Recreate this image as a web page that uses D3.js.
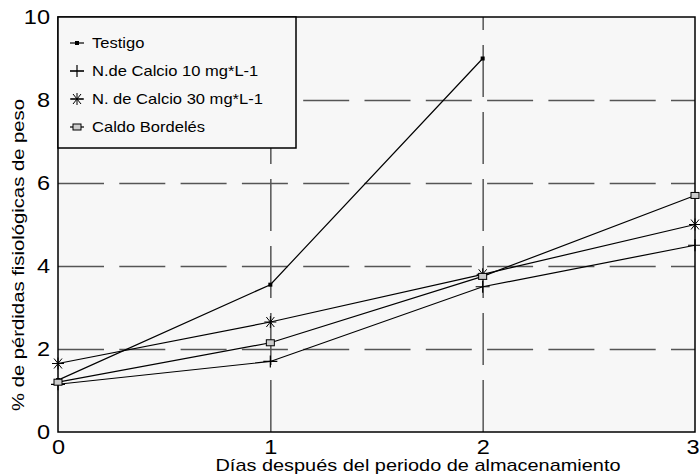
<!DOCTYPE html>
<html>
<head>
<meta charset="utf-8">
<script src="https://cdn.jsdelivr.net/npm/d3@7"></script>
<style>
  body { margin: 0; background: #fff; }
  text { font-family: "Liberation Sans", Arial, sans-serif; }
</style>
</head>
<body>
<div id="chart"></div>
<script>
var dias = [0, 1, 2, 3];
var seriesNames = ["Testigo", "N.de Calcio 10 mg*L-1", "N. de Calcio 30 mg*L-1", "Caldo Bordelés"];
var testigo = [1.25, 3.55, 9.0];
var calcio10 = [1.15, 1.7, 3.5, 4.5];
var calcio30 = [1.65, 2.65, 3.8, 5.0];
var caldo = [1.2, 2.15, 3.75, 5.7];
var yTicks = [0, 2, 4, 6, 8, 10];
var xTicks = [0, 1, 2, 3];

var width = 700, height = 476;
var margin = {top: 17, right: 5, bottom: 44, left: 58};
var w = width - margin.left - margin.right;
var h = height - margin.top - margin.bottom;

var svg = d3.select('#chart').append('svg')
  .attr('width', width).attr('height', height);

var x = d3.scaleLinear().domain([0, 3]).range([margin.left, margin.left + w]);
var y = d3.scaleLinear().domain([0, 10]).range([margin.top + h, margin.top]);

// widen a text a little, the original font runs wide
function stretch(sel, k) {
  sel.each(function () {
    var len = this.getComputedTextLength();
    d3.select(this).attr('textLength', len * k).attr('lengthAdjust', 'spacingAndGlyphs');
  });
}

// plot background
svg.append('rect')
  .attr('x', x(0)).attr('y', y(10))
  .attr('width', x(3) - x(0)).attr('height', y(0) - y(10))
  .attr('fill', '#f7f7f7');

// grid lines
var gridY = svg.append('g')
  .attr('transform', 'translate(' + x(0) + ',0)')
  .call(d3.axisRight(y).tickValues([2, 4, 6, 8]).tickSize(x(3) - x(0)).tickFormat(''));
gridY.select('.domain').remove();
gridY.selectAll('line')
  .attr('stroke', '#555').attr('stroke-width', 1.5)
  .attr('stroke-dasharray', '46,15.3');

var gridX = svg.append('g')
  .attr('transform', 'translate(0,' + y(0) + ')')
  .call(d3.axisTop(x).tickValues([1, 2]).tickSize(y(0) - y(10)).tickFormat(''));
gridX.select('.domain').remove();
gridX.selectAll('line')
  .attr('stroke', '#555').attr('stroke-width', 1.5)
  .attr('stroke-dasharray', '52,15');

// frame
svg.append('rect')
  .attr('x', x(0)).attr('y', y(10))
  .attr('width', x(3) - x(0)).attr('height', y(0) - y(10))
  .attr('fill', 'none').attr('stroke', '#000').attr('stroke-width', 1.5);

// tick labels
var axY = svg.append('g')
  .attr('transform', 'translate(' + (x(0) - 8) + ',0)')
  .call(d3.axisLeft(y).tickValues(yTicks).tickSize(0).tickPadding(0).tickFormat(d3.format('d')));
axY.select('.domain').remove();
axY.selectAll('text')
  .attr('font-size', 21).attr('font-family', '"DejaVu Sans", sans-serif')
  .attr('fill', '#000')
  .call(stretch, 1.12);

var axX = svg.append('g')
  .attr('transform', 'translate(0,' + (y(0) + 7) + ')')
  .call(d3.axisBottom(x).tickValues(xTicks).tickSize(0).tickPadding(0).tickFormat(d3.format('d')));
axX.select('.domain').remove();
axX.selectAll('text')
  .attr('font-size', 21).attr('font-family', '"DejaVu Sans", sans-serif')
  .attr('fill', '#000')
  .attr('text-anchor', function (d) { return d === 3 ? 'end' : 'middle'; })
  .attr('dx', function (d) { return d === 3 ? 4 : 0; })
  .call(stretch, 1.12);

// axis titles
svg.append('text')
  .attr('transform', 'translate(24,' + 255 + ') rotate(-90)')
  .attr('text-anchor', 'middle')
  .attr('font-size', 16)
  .attr('textLength', 312).attr('lengthAdjust', 'spacingAndGlyphs')
  .text('% de pérdidas fisiológicas de peso');

svg.append('text')
  .attr('x', 418).attr('y', 471)
  .attr('text-anchor', 'middle')
  .attr('font-size', 17)
  .attr('textLength', 405).attr('lengthAdjust', 'spacingAndGlyphs')
  .text('Días después del periodo de almacenamiento');

// marker paths
function marker(g, type) {
  if (type === 0) {
    g.append('rect').attr('x', -2).attr('y', -2).attr('width', 4).attr('height', 4).attr('fill', '#000');
  } else if (type === 1) {
    g.append('path').attr('d', 'M-7,0H7M0,-6V6').attr('stroke', '#000').attr('stroke-width', 1.2);
  } else if (type === 2) {
    g.append('path').attr('d', 'M-6,0H6M-4,-5L4,5M-4,5L4,-5M0,-6V6').attr('stroke', '#000').attr('stroke-width', 1);
  } else {
    g.append('rect').attr('x', -4).attr('y', -3).attr('width', 8).attr('height', 6)
      .attr('fill', '#ccc').attr('stroke', '#000').attr('stroke-width', 1);
  }
}

var allSeries = [testigo, calcio10, calcio30, caldo];
var line = d3.line()
  .x(function (d, i) { return x(dias[i]); })
  .y(function (d) { return y(d); });

allSeries.forEach(function (vals, s) {
  svg.append('path')
    .datum(vals)
    .attr('d', line)
    .attr('fill', 'none').attr('stroke', '#000').attr('stroke-width', 1.2);
});
allSeries.forEach(function (vals, s) {
  vals.forEach(function (v, i) {
    var g = svg.append('g').attr('transform', 'translate(' + x(dias[i]) + ',' + y(v) + ')');
    marker(g, s);
  });
});

// legend
var lg = svg.append('g');
lg.append('rect')
  .attr('x', x(0)).attr('y', y(10))
  .attr('width', 238).attr('height', 131)
  .attr('fill', '#f7f7f7').attr('stroke', '#000').attr('stroke-width', 1.5);
seriesNames.forEach(function (name, i) {
  var yy = 43 + i * 28;
  lg.append('line').attr('x1', 70).attr('x2', 84).attr('y1', yy).attr('y2', yy)
    .attr('stroke', '#000').attr('stroke-width', 1.2);
  var g = lg.append('g').attr('transform', 'translate(77,' + yy + ')');
  marker(g, i);
  lg.append('text').attr('x', 92).attr('y', yy + 5)
    .attr('font-size', 14.5).text(name)
    .call(stretch, 1.14);
});
</script>
</body>
</html>
